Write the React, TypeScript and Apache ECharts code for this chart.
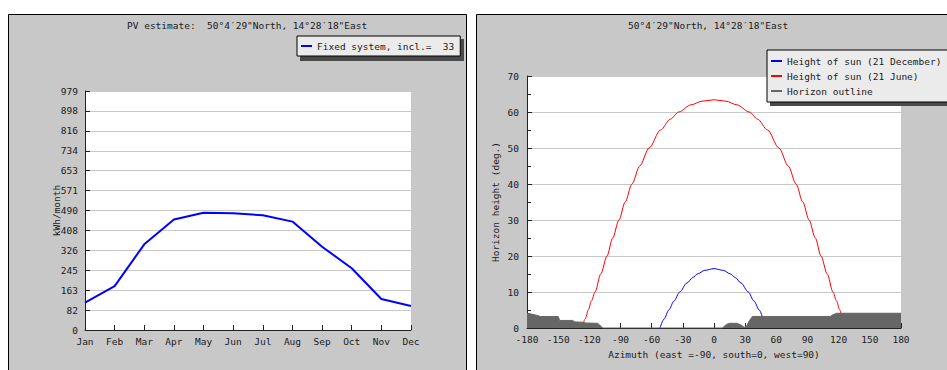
import React, { useEffect, useRef } from 'react';
import * as echarts from 'echarts';

// ---------- data ----------
const months = ['Jan', 'Feb', 'Mar', 'Apr', 'May', 'Jun', 'Jul', 'Aug', 'Sep', 'Oct', 'Nov', 'Dec'];
const pvValues = [112, 180, 351, 453, 480, 478, 470, 444, 341, 253, 127, 98];
const pvTickLabels = ['0', '82', '163', '245', '326', '408', '490', '571', '653', '734', '816', '898', '979'];
const pvMax = 979;
const pvLegend = 'Fixed system, incl.=  33';

const decemberSun: [number, number][] = [
  [-52, 0], [-48, 2.5], [-43.5, 5], [-38.5, 7.5], [-33, 10], [-26, 12.5], [-20.5, 14], [-16, 15], [-9, 16],
  [0, 16.5], [9, 16], [16, 15], [20.5, 14], [26, 12.5], [33, 10], [38.5, 7.5], [43.5, 5], [48, 2.5], [52, 0],
];
const juneSun: [number, number][] = [
  [-127, 0], [-124, 2.5], [-121, 5], [-118, 7.5], [-114.5, 10], [-109, 15], [-103, 20], [-97.5, 25],
  [-91.5, 30], [-85.5, 35], [-79, 40], [-71.5, 45], [-62.5, 50], [-51.5, 55], [-42, 58], [-34, 60],
  [-22, 62], [-11.5, 63], [0, 63.4], [11.5, 63], [22, 62], [34, 60], [42, 58], [51.5, 55], [62.5, 50],
  [71.5, 45], [79, 40], [85.5, 35], [91.5, 30], [97.5, 25], [103, 20], [109, 15], [114.5, 10], [118, 7.5],
  [121, 5], [124, 2.5], [127, 0],
];
const horizonOutline: [number, number][] = [
  [-180, 4.1], [-176, 3.9], [-170, 3.5], [-167, 3.2], [-150, 3.2], [-148.5, 2.1], [-136, 2.1], [-134, 1.7],
  [-126, 1.6], [-124, 1.4], [-112, 1.3], [-107, 0], [8, 0], [12, 1.0], [15, 1.3], [22, 1.3], [26, 0.8],
  [29, 0.2], [31, 0.3], [34, 2.0], [37, 3.2], [112, 3.2], [114, 3.6], [118, 4.1], [180, 4.1],
];
const azMin = -180;
const azMax = 180;
const azStep = 30;
const hMax = 70;
const hStep = 10;

const seriesNames = ['Height of sun (21 December)', 'Height of sun (21 June)', 'Horizon outline'];
const leftTitle = 'PV estimate:  50°4′29"North, 14°28′18"East';
const rightTitle = '50°4′29"North, 14°28′18"East';

// ---------- styles ----------
const FONT = '"DejaVu Sans Mono", monospace';
const FS = 9.5;
const TXT = '#1a1a1a';
const PANEL = '#c8c8c8';
const GRIDLINE = '#c8c8c8';
const AXIS = '#222';

const txt = { fontFamily: FONT, fontSize: FS, color: TXT, fontWeight: 'normal' as const };

export default function App() {
  const ref = useRef<HTMLDivElement>(null);
  useEffect(() => {
    if (!ref.current) return;
    const chart = echarts.init(ref.current, null, { renderer: 'svg' });
    const pvStep = pvMax / 12;
    const option: any = {
      animation: false,
      textStyle: { fontFamily: FONT },
      graphic: [
        { type: 'rect', z: -10, shape: { x: 8.5, y: 14.5, width: 458, height: 380 }, style: { fill: PANEL, stroke: '#000', lineWidth: 1 } },
        { type: 'rect', z: -10, shape: { x: 476.5, y: 14.5, width: 490, height: 380 }, style: { fill: PANEL, stroke: '#000', lineWidth: 1 } },
        { type: 'rect', z: 3, shape: { x: 300, y: 39, width: 164, height: 22 }, style: { fill: '#4a4a4a' } },
        { type: 'rect', z: 3, shape: { x: 770, y: 53, width: 190, height: 53 }, style: { fill: '#4a4a4a' } },
      ],
      title: [
        { text: leftTitle, left: 127, top: 20, padding: 0, textStyle: txt },
        { text: rightTitle, left: 628, top: 20, padding: 0, textStyle: txt },
      ],
      legend: [
        {
          data: [pvLegend], left: 297, top: 36, orient: 'vertical', icon: 'rect', itemWidth: 11, itemHeight: 2,
          padding: [5, 6, 5, 4], backgroundColor: '#ebebeb', borderColor: '#000', borderWidth: 1, borderRadius: 0,
          textStyle: txt, selectedMode: false, z: 4,
        },
        {
          data: seriesNames, left: 767, top: 50, orient: 'vertical', icon: 'rect', itemWidth: 11, itemHeight: 2,
          itemGap: 5, padding: [6, 10, 6, 4], backgroundColor: '#ebebeb', borderColor: '#000', borderWidth: 1,
          borderRadius: 0, textStyle: txt, selectedMode: false, z: 4,
        },
      ],
      grid: [
        { left: 85, top: 91, width: 326, height: 239, show: true, backgroundColor: '#fff', borderWidth: 0 },
        { left: 527, top: 76, width: 374, height: 252, show: true, backgroundColor: '#fff', borderWidth: 0 },
      ],
      xAxis: [
        {
          type: 'category', gridIndex: 0, data: months, boundaryGap: false,
          axisLine: { onZero: false, lineStyle: { color: AXIS, width: 1 } },
          axisTick: { inside: true, length: 5, alignWithLabel: true, interval: 0, lineStyle: { color: AXIS } },
          axisLabel: { ...txt, margin: 6, interval: 0 },
          splitLine: { show: false },
        },
        {
          type: 'value', gridIndex: 1, min: azMin, max: azMax, interval: azStep,
          name: 'Azimuth (east =-90, south=0, west=90)', nameLocation: 'middle', nameGap: 21, nameMoveOverlap: false,
          nameTextStyle: txt,
          axisLine: { onZero: false, lineStyle: { color: AXIS, width: 1 } },
          axisTick: { inside: true, length: 5, lineStyle: { color: AXIS } },
          axisLabel: { ...txt, margin: 6 },
          splitLine: { show: false },
        },
      ],
      yAxis: [
        {
          type: 'value', gridIndex: 0, min: 0, max: pvMax, interval: pvStep,
          name: 'kWh/month', nameLocation: 'middle', nameGap: 24, nameMoveOverlap: false, nameTextStyle: txt,
          axisLine: { show: true, onZero: false, lineStyle: { color: AXIS, width: 1 } },
          axisTick: { show: true, inside: true, length: 5, lineStyle: { color: AXIS } },
          axisLabel: { ...txt, margin: 7, formatter: (v: number) => pvTickLabels[Math.round(v / pvStep)] ?? '' },
          splitLine: { show: true, lineStyle: { color: GRIDLINE, width: 1 } },
        },
        {
          type: 'value', gridIndex: 1, min: 0, max: hMax, interval: hStep,
          name: 'Horizon height (deg.)', nameLocation: 'middle', nameGap: 27, nameMoveOverlap: false,
          nameTextStyle: txt,
          axisLine: { show: true, onZero: false, lineStyle: { color: AXIS, width: 1 } },
          axisTick: { show: true, inside: true, length: 5, lineStyle: { color: AXIS } },
          minorTick: { show: true, splitNumber: 2, length: 4, lineStyle: { color: AXIS } },
          axisLabel: { ...txt, margin: 8 },
          splitLine: { show: true, lineStyle: { color: GRIDLINE, width: 1 } },
        },
      ],
      series: [
        {
          name: pvLegend, type: 'line', xAxisIndex: 0, yAxisIndex: 0, data: pvValues, symbol: 'none',
          lineStyle: { color: '#0000ff', width: 2 }, itemStyle: { color: '#0000ff' }, z: 3,
        },
        {
          name: seriesNames[0], type: 'line', xAxisIndex: 1, yAxisIndex: 1, data: decemberSun, symbol: 'none',
          smooth: 0.3, smoothMonotone: 'x', lineStyle: { color: '#0000ff', width: 1 }, itemStyle: { color: '#0000ff' }, z: 3,
        },
        {
          name: seriesNames[1], type: 'line', xAxisIndex: 1, yAxisIndex: 1, data: juneSun, symbol: 'none',
          smooth: 0.3, smoothMonotone: 'x', lineStyle: { color: '#ff0000', width: 1 }, itemStyle: { color: '#ff0000' }, z: 3,
        },
        {
          name: seriesNames[2], type: 'line', xAxisIndex: 1, yAxisIndex: 1, data: horizonOutline, symbol: 'none',
          lineStyle: { color: '#666666', width: 1 }, itemStyle: { color: '#666666' },
          areaStyle: { color: '#666666', opacity: 1 }, z: 5,
        },
      ],
    };
    chart.setOption(option);
    return () => chart.dispose();
  }, []);
  return <div ref={ref} style={{ position: 'absolute', left: 0, top: 0, width: 947, height: 370 }} />;
}
